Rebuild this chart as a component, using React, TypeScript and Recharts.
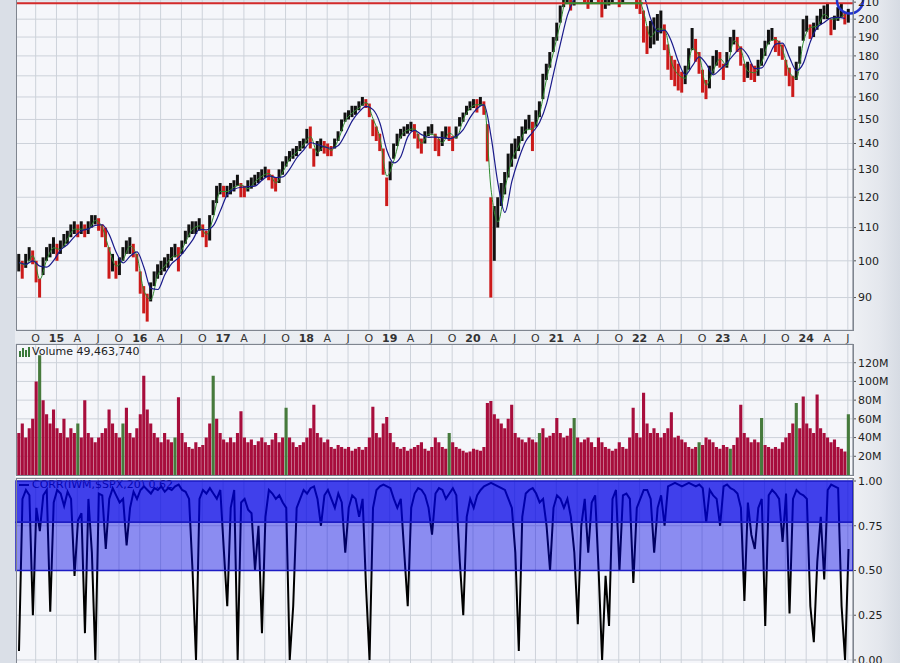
import React from 'react';
import {
  ComposedChart, Bar, Line, XAxis, YAxis, CartesianGrid,
  ReferenceLine, ReferenceArea, ReferenceDot, Cell,
} from 'recharts';

const FONT = '"DejaVu Sans", Verdana, sans-serif';

// time axis (fractional years), one period = half a month
const periodStart = 2014.55;
const periodStep = 1 / 24;
const T0 = 2014.514;
const T1 = 2024.562;

const priceHigh = [
  102,100,102,104,103,100,95,101,104,105,
  107,105,106,108,109,111,112,111,112,111,
  112,114,114,113,111,110,104,102,100,101,
  104,106,107,105,102,97,93,91,94,97,
  99,100,101,102,104,105,104,106,109,111,
  112,112,113,111,109,114,119,124,125,124,
  124,125,126,128,125,124,126,127,128,129,
  130,131,130,128,127,130,133,135,137,138,
  139,141,142,146,147,138,141,142,141,140,
  139,142,145,150,153,154,156,156,158,160,
  159,157,150,147,144,138,127,133,140,144,
  146,147,148,149,148,144,142,145,147,148,
  144,142,145,147,147,143,147,151,153,156,
  158,159,159,160,158,148,120,117,120,125,
  129,136,140,142,143,147,150,152,149,154,
  158,171,176,182,190,198,208,217,224,220,
  222,224,226,223,222,222,225,223,218,219,
  221,223,224,221,223,230,238,230,222,220,
  205,196,199,201,203,205,197,186,180,178,
  176,172,175,184,195,189,182,173,168,175,
  180,183,182,176,182,190,194,190,185,176,
  177,176,175,178,184,188,194,195,190,188,
  186,178,174,170,177,185,200,202,197,198,
  202,206,208,209,200,202,207,209,204,206,
];

const priceLow = [
  97,95,98,100,99,94,90,96,100,101,
  102,100,102,104,105,107,108,107,108,107,
  108,110,111,109,107,104,95,97,95,96,
  100,102,102,101,97,91,86,84,89,93,
  95,96,97,98,100,101,97,102,105,107,
  108,108,109,107,104,106,114,118,121,120,
  120,121,122,124,120,120,122,123,124,125,
  126,127,126,123,122,125,128,131,133,134,
  135,137,138,140,138,131,135,137,136,135,
  135,138,141,145,149,150,151,152,154,156,
  155,151,143,141,137,128,117,126,134,139,
  142,143,144,145,142,138,136,140,143,144,
  137,135,139,142,141,137,142,147,149,152,
  154,155,153,156,152,133,90,100,110,117,
  121,127,131,134,137,141,144,146,137,147,
  151,159,168,174,182,188,198,207,210,205,
  208,212,214,210,206,209,213,210,201,206,
  208,210,212,207,210,215,222,212,206,203,
  187,181,184,186,188,192,183,173,168,165,
  163,162,166,173,183,177,171,162,159,164,
  171,175,174,168,174,182,186,182,175,167,
  169,168,167,170,175,180,186,188,182,180,
  178,170,165,160,168,176,188,193,189,190,
  194,197,200,200,191,194,199,201,197,198,
];

// moving averages, read every second period
const maFast = [
  99.5,98.8,101.5,94.8,100.3,103.8,103.3,106.5,109.5,109.5,
  109.5,112.3,110,103.3,98.5,100.3,104.3,101.3,91.8,89.5,
  96,98.5,101,101.8,105.5,109.5,110.5,107.8,113.3,122,
  122,123.5,124.3,123,125.5,127.5,128.5,125,129,134,
  136.5,139.5,142.8,136.3,139,137.3,141.5,149.3,152.8,155,
  157.5,150.3,142.3,127.5,133.3,142.8,145.5,146,140,143.8,
  143.3,140.3,144.3,142.3,150,155,156.5,156.5,122.8,111.8,
  123,133.5,139,145.5,146,152.5,168.5,182,198,214.5,
  213.8,219,215.3,217.3,213,213.5,217.3,215.3,226.3,217.5,
  203.8,190,194.5,194.3,176.8,170.5,168.8,183.8,179.8,165.5,
  172.5,178.5,175,188,183,172.3,171.5,176.8,187,188.8,
  183,171.8,168.8,187.3,195.3,196,202.8,200,200.5,202.8,
];

const maSlow = [
  99.5,99,100,98.5,98.2,100.1,103.2,104.8,107.2,109,
  109.6,110.7,110.9,107.8,102.5,99.4,101.3,102.6,98.1,92.4,
  92.1,96.1,99.2,100.9,103.3,106.1,109.4,109.3,110.6,115.4,
  120.9,122.8,123.5,123.7,123.9,126,127.6,127,127.2,130.1,
  134.3,137.4,140.3,139.6,138.6,138.1,139.2,143.7,149.4,153.3,
  155.7,154.3,148.4,137.2,132.4,134.8,142.7,145.4,143.6,142.5,
  142.6,142.4,141.9,143,145.7,150.9,154.8,156.4,142.9,124.8,
  114.9,125.6,134,140.9,144.6,148.8,157,171.1,186.4,202.2,
  211.9,216.5,216.7,217,214.9,214.4,214.2,215.9,220.2,220.8,
  214.5,200.3,193,193.8,187.5,176.9,170.5,174.9,179.5,175.9,
  170.5,173.1,176.5,180.8,184,180.1,173.5,173.9,179.7,186.2,
  186.7,179.1,172.6,176.3,187.5,195.3,198.1,200.7,201,200.4,
];

// volume in millions
const volume = [
  45,55,40,50,60,100,128,80,65,55,
  70,50,45,60,40,50,45,55,40,80,
  45,40,35,40,45,50,70,55,45,40,
  55,72,45,40,50,65,106,70,55,45,
  40,35,45,38,35,40,83,45,35,30,
  28,35,30,32,40,55,106,60,45,38,
  35,40,35,45,68,40,35,38,32,36,
  40,35,32,38,45,35,40,72,40,35,
  30,32,35,40,50,75,45,40,35,38,
  30,28,32,30,28,30,26,28,30,27,
  30,40,73,45,40,55,62,45,35,30,
  28,30,26,28,30,32,35,28,26,30,
  40,35,30,28,45,35,30,28,26,24,
  25,28,27,26,30,77,79,65,60,55,
  50,60,75,45,40,38,35,40,38,35,
  45,50,40,42,45,61,45,40,42,50,
  61,40,35,38,40,35,30,40,35,30,
  28,26,28,35,30,28,40,72,45,40,
  88,55,45,50,45,40,45,50,67,40,
  42,38,35,30,28,30,35,32,40,38,
  35,30,28,32,30,28,32,40,75,45,
  40,35,38,35,61,32,30,28,30,28,
  35,40,45,55,77,50,84,55,50,45,
  86,50,45,40,35,38,30,28,25,65,
];
const volumeUpPeriods = [6, 17, 30, 45, 56, 77, 124, 150, 160, 196, 205, 214, 224, 239];

const corr = [
  0.05,0.9,0.95,0.92,0.25,0.85,0.72,0.92,0.95,0.27,
  0.88,0.95,0.93,0.86,0.94,0.9,0.47,0.78,0.82,0.15,
  0.9,0.6,0.0,0.93,0.92,0.62,0.9,0.96,0.92,0.88,
  0.9,0.64,0.85,0.94,0.9,0.95,0.97,0.95,0.93,0.96,
  0.95,0.97,0.94,0.96,0.95,0.97,0.98,0.95,0.94,0.9,
  0.5,0.0,0.9,0.95,0.93,0.96,0.93,0.9,0.95,0.62,
  0.3,0.85,0.95,0.0,0.88,0.9,0.84,0.82,0.5,0.75,
  0.15,0.8,0.95,0.93,0.9,0.92,0.88,0.85,0.0,0.3,
  0.85,0.9,0.95,0.93,0.96,0.97,0.9,0.75,0.92,0.95,
  0.9,0.85,0.93,0.88,0.6,0.85,0.92,0.9,0.8,0.9,
  0.4,0.0,0.85,0.95,0.97,0.98,0.97,0.96,0.9,0.85,
  0.9,0.6,0.3,0.85,0.93,0.96,0.95,0.92,0.85,0.7,
  0.93,0.96,0.95,0.9,0.93,0.96,0.92,0.55,0.25,0.8,
  0.9,0.85,0.92,0.95,0.97,0.98,0.99,0.98,0.97,0.96,
  0.95,0.9,0.85,0.6,0.05,0.8,0.93,0.95,0.96,0.93,
  0.88,0.9,0.75,0.5,0.85,0.92,0.9,0.85,0.9,0.8,
  0.6,0.2,0.75,0.9,0.6,0.88,0.92,0.5,0.0,0.47,
  0.19,0.9,0.95,0.5,0.92,0.93,0.9,0.43,0.85,0.9,
  0.95,0.95,0.9,0.6,0.85,0.92,0.75,0.97,0.98,0.99,
  0.98,0.97,0.98,0.99,0.98,0.97,0.98,0.96,0.77,0.95,
  0.92,0.9,0.75,0.97,0.98,0.96,0.95,0.93,0.85,0.33,
  0.88,0.7,0.62,0.85,0.9,0.19,0.92,0.95,0.93,0.9,
  0.66,0.93,0.26,0.9,0.95,0.93,0.92,0.9,0.3,0.1,
  0.55,0.8,0.45,0.95,0.98,0.97,0.96,0.3,0.0,0.62,
];

const xTickLabels = [
  'O','15','A','J','O','16','A','J','O','17','A','J','O','18','A','J',
  'O','19','A','J','O','20','A','J','O','21','A','J','O','22','A','J',
  'O','23','A','J','O','24','A','J',
];
const xTickStart = 2014.75;
const xTicks = xTickLabels.map((_, k) => xTickStart + k * 0.25);

const priceTicks = [90, 100, 110, 120, 130, 140, 150, 160, 170, 180, 190, 200, 210];
const volTicks = [20, 40, 60, 80, 100, 120];
const corrTicks = [0, 0.25, 0.5, 0.75, 1];

const resistanceLevel = 209.3;
const rangeTopStart = 2021.1;
const rangeTopEnd = 2022.04;
const markerX = 2024.526;
const markerY = 211;
const corrBandHigh = [0.77, 1.0];
const corrBandMid = [0.5, 0.77];

const data = priceHigh.map((hi, i) => ({
  t: periodStart + i * periodStep,
  range: [priceLow[i], hi],
  fast: i % 2 === 0 ? maFast[i / 2] : null,
  slow: i % 2 === 0 ? maSlow[i / 2] : null,
  vol: volume[i],
  corr: corr[i],
}));

const mid = (i: number) => (priceHigh[i] + priceLow[i]) / 2;
const candleColor = (i: number) => (i > 0 && mid(i) < mid(i - 1) ? '#cc1a1a' : '#111111');
const volColor = (i: number) => (volumeUpPeriods.includes(i) ? '#467a3c' : '#a70d3c');

const XTick = (props: any) => {
  const { x, y, payload } = props;
  const k = Math.round((payload.value - xTickStart) / 0.25);
  const label = xTickLabels[k] ?? '';
  const isYear = /^\d+$/.test(label);
  return (
    <text x={x} y={y + 10} textAnchor="middle" fontSize={11} fontFamily={FONT}
      fontWeight={isYear ? 700 : 400} fill="#333">
      {label}
    </text>
  );
};

const yTickStyle = { fontSize: 11, fill: '#222', fontFamily: FONT };
const GRID = '#cdd2da';
const PLOT_BG = '#f5f6fa';
const MARGIN = { top: 0, right: 0, bottom: 0, left: 16 };

export default function App() {
  return (
    <div style={{
      position: 'absolute', left: 0, top: 0, width: 900, height: 663, overflow: 'hidden',
      background: 'linear-gradient(to right, #dadfe7 0px, #dadfe7 15px, #e9ecf1 15px, #eef0f4 853px, #e4e7ed 880px, #d6dbe3 900px)',
      fontFamily: FONT,
    }}>
      <style>{'.recharts-surface { overflow: visible; }'}</style>
      {/* price panel */}
      <div style={{ position: 'absolute', left: 0, top: 0 }}>
        <ComposedChart width={900} height={344} data={data} margin={MARGIN}>
          <CartesianGrid stroke={GRID} fill={PLOT_BG} />
          <XAxis dataKey="t" type="number" domain={[T0, T1]} allowDataOverflow ticks={xTicks}
            interval={0} tickSize={0} tickMargin={2} height={14} axisLine={false}
            tick={(p: any) => <XTick {...p} />} />
          <YAxis orientation="right" scale="log" domain={[82, 211.3]} allowDataOverflow
            ticks={priceTicks} interval={0} width={47} tickSize={3} tickMargin={2}
            tick={yTickStyle} axisLine={{ stroke: '#7c828c' }} tickLine={{ stroke: '#555' }} />
          <Bar dataKey="range" barSize={3} isAnimationActive={false}>
            {data.map((_, i) => <Cell key={i} fill={candleColor(i)} />)}
          </Bar>
          <Line dataKey="fast" type="monotone" stroke="#2e8b2e" strokeWidth={1} dot={false}
            connectNulls isAnimationActive={false} />
          <Line dataKey="slow" type="monotone" stroke="#1a1a8a" strokeWidth={1.2} dot={false}
            connectNulls isAnimationActive={false} />
          <ReferenceLine y={resistanceLevel} stroke="#d42a2a" strokeWidth={2} />
          <ReferenceLine segment={[{ x: rangeTopStart, y: resistanceLevel }, { x: rangeTopEnd, y: resistanceLevel }]}
            stroke="#2f8a2f" strokeWidth={2} />
          <ReferenceDot x={markerX} y={markerY} r={13} fill="none" stroke="#2233cc"
            strokeWidth={2.5} ifOverflow="visible" />
        </ComposedChart>
      </div>
      <div style={{ position: 'absolute', left: 16, top: -1, width: 838, height: 332, border: '1px solid #7f858f', boxSizing: 'border-box', pointerEvents: 'none' }} />

      {/* volume panel */}
      <div style={{ position: 'absolute', left: 0, top: 344 }}>
        <ComposedChart width={900} height={131} data={data} margin={MARGIN}>
          <CartesianGrid stroke={GRID} fill={PLOT_BG} />
          <XAxis dataKey="t" type="number" domain={[T0, T1]} allowDataOverflow ticks={xTicks} interval={0} hide />
          <YAxis orientation="right" domain={[0, 140]} ticks={volTicks} interval={0} width={47}
            tickSize={3} tickMargin={2} tick={yTickStyle} tickFormatter={(v: number) => `${v}M`}
            axisLine={{ stroke: '#7c828c' }} tickLine={{ stroke: '#555' }} />
          <Bar dataKey="vol" barSize={4} isAnimationActive={false}>
            {data.map((_, i) => <Cell key={i} fill={volColor(i)} />)}
          </Bar>
        </ComposedChart>
      </div>
      <div style={{ position: 'absolute', left: 16, top: 344, width: 838, height: 132, border: '1px solid #7f858f', boxSizing: 'border-box', pointerEvents: 'none' }} />
      <div style={{ position: 'absolute', left: 19, top: 345, display: 'flex', alignItems: 'center', fontSize: 11, color: '#222', whiteSpace: 'nowrap' }}>
        <svg width={11} height={10} style={{ marginRight: 2 }}>
          <rect x={0} y={4} width={2} height={6} fill="#3a7a3a" />
          <rect x={3} y={1} width={2} height={9} fill="#3a7a3a" />
          <rect x={6} y={3} width={2} height={7} fill="#3a7a3a" />
          <rect x={9} y={0} width={2} height={10} fill="#3a7a3a" />
        </svg>
        <span>Volume 49,463,740</span>
      </div>
      <div style={{ position: 'absolute', left: 16, top: 476, width: 838, height: 2, background: '#ffffff' }} />

      {/* correlation panel */}
      <div style={{ position: 'absolute', left: 0, top: 478 }}>
        <ComposedChart width={900} height={200} data={data} margin={MARGIN}>
          <CartesianGrid stroke={GRID} fill={PLOT_BG} />
          <XAxis dataKey="t" type="number" domain={[T0, T1]} allowDataOverflow ticks={xTicks} interval={0} hide />
          <YAxis orientation="right" domain={[-0.1006, 1.0168]} allowDataOverflow ticks={corrTicks}
            interval={0} width={47} tickSize={3} tickMargin={2} tick={yTickStyle}
            tickFormatter={(v: number) => v.toFixed(2)}
            axisLine={{ stroke: '#7c828c' }} tickLine={{ stroke: '#555' }} />
          <Line dataKey="corr" type="linear" stroke="#000000" strokeWidth={2} dot={false}
            isAnimationActive={false} />
        </ComposedChart>
      </div>
      <div style={{ position: 'absolute', left: 19, top: 478, display: 'flex', alignItems: 'center', fontSize: 11, color: '#111', whiteSpace: 'nowrap' }}>
        <span style={{ display: 'inline-block', width: 10, height: 2, background: '#111', marginRight: 3 }} />
        <span>CORR(IWM,$SPX,20) 0.62</span>
      </div>
      <div style={{ position: 'absolute', left: 0, top: 478 }}>
        <ComposedChart width={900} height={200} data={data} margin={{ top: 0, right: 47, bottom: 0, left: 16 }}>
          <XAxis dataKey="t" type="number" domain={[T0, T1]} allowDataOverflow hide />
          <YAxis domain={[-0.1006, 1.0168]} allowDataOverflow hide />
          <ReferenceArea y1={corrBandHigh[0]} y2={corrBandHigh[1]} fill="#0000e6" fillOpacity={0.74}
            stroke="#1c1cc4" strokeWidth={1.5} strokeOpacity={1} />
          <ReferenceArea y1={corrBandMid[0]} y2={corrBandMid[1]} fill="#0000e6" fillOpacity={0.43}
            stroke="#1c1cc4" strokeWidth={1.5} strokeOpacity={1} />
        </ComposedChart>
      </div>
      <div style={{ position: 'absolute', left: 16, top: 478, width: 838, height: 200, border: '1px solid #7f858f', boxSizing: 'border-box', pointerEvents: 'none' }} />
    </div>
  );
}
